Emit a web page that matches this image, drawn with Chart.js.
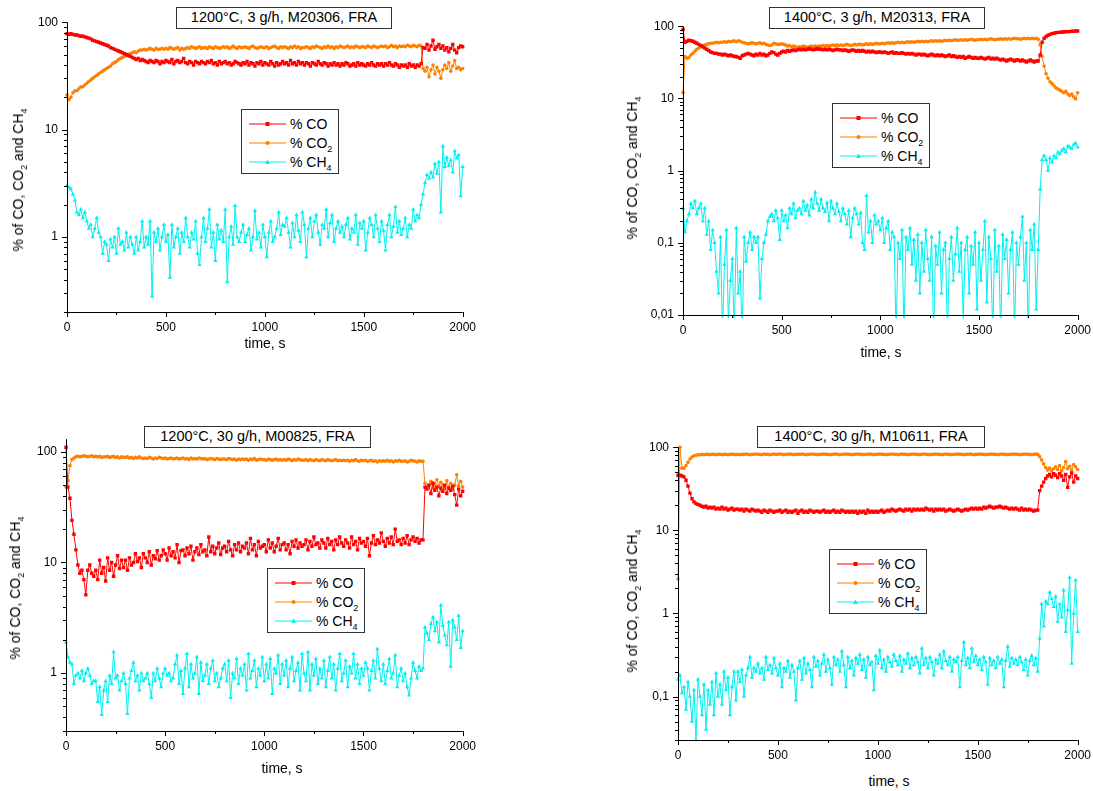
<!DOCTYPE html>
<html>
<head>
<meta charset="utf-8">
<title>Gas composition vs time</title>
<script src="https://cdn.jsdelivr.net/npm/chart.js@4.4.1/dist/chart.umd.min.js"></script>
<style>
  html, body { margin: 0; padding: 0; background: #fff; overflow: hidden; }
  body { width: 1093px; height: 791px; position: relative; font-family: "Liberation Sans", Arial, sans-serif; color: #000; }
  canvas { position: absolute; }
  .title { position: absolute; box-sizing: border-box; border: 1.5px solid #333; background: #fff; font-size: 14.5px; line-height: 19px; text-align: center; z-index: 2; }
  .legend { position: absolute; box-sizing: border-box; border: 1.5px solid #333; background: #fff; font-size: 14px; padding: 4px 0 0 7px; z-index: 2; }
  .legend .row { height: 19px; display: flex; align-items: center; white-space: nowrap; }
  .legend svg { margin-right: 4px; }
  .ytitle { position: absolute; font-size: 14px; white-space: nowrap; transform: translate(-50%, -50%) rotate(-90deg); }
  .xtitle { position: absolute; font-size: 14px; white-space: nowrap; transform: translate(-50%, -50%); }
  .sub { font-size: 9px; position: relative; top: 4px; }
</style>
</head>
<body>
<script>
// sampling: one reading every 10 s from 0 to 2000 s
const time = Array.from({ length: 201 }, (_, i) => i * 10);

// ---- 1200°C, 3 g/h, M20306 ----
const coA = [
  78,77,78,77,76,76,75,74,74,73,
  72,71,70,68,67,66,65,64,63,62,
  61,60,58,57,56,55,54,53,52,51,
  50,49,48,47,46,45,46,44,45,44,
  43,42,44,43,42,44,43,41,43,42,
  44,43,42,45,41,43,44,42,43,46,
  42,41,43,42,40,43,42,41,43,42,
  41,43,42,44,41,42,40,43,41,42,
  43,41,42,40,41,43,42,41,40,42,
  41,43,40,42,41,39,42,41,43,40,
  42,41,40,43,41,39,42,40,41,43,
  41,42,40,44,41,42,40,43,41,42,
  40,42,41,39,42,41,40,43,41,40,
  42,41,39,41,40,42,40,41,39,41,
  40,42,41,39,40,41,39,42,40,41,
  40,39,41,40,42,40,39,41,40,41,
  39,41,40,42,40,39,41,40,38,40,
  39,40,38,41,39,40,38,40,39,41,
  58,57,62,55,60,68,56,59,62,57,
  60,55,58,53,57,62,55,52,58,60,
  59
];
const co2A = [
  21,19,20,22,23,23,24,25,25,26,
  27,28,29,30,31,32,33,34,35,36,
  37,38,39,41,42,43,45,46,47,48,
  49,50,51,52,53,52,54,55,55,56,
  55,56,57,56,55,57,56,56,57,56,
  57,56,58,57,56,57,58,55,57,56,
  57,58,57,59,58,57,58,59,57,58,
  58,57,59,58,57,59,58,57,58,59,
  58,59,57,58,60,58,57,59,58,58,
  59,58,57,59,60,58,57,58,59,58,
  58,59,57,58,59,60,58,57,59,58,
  59,58,57,59,58,60,58,59,57,58,
  58,59,58,57,59,58,60,59,58,57,
  59,58,60,58,59,57,59,58,60,59,
  58,59,60,58,59,58,60,59,58,59,
  59,58,60,59,58,60,59,58,59,60,
  59,60,58,59,61,59,60,58,60,59,
  60,59,61,60,59,61,60,59,61,60,
  37,35,38,31,36,40,33,38,35,30,
  36,40,37,42,35,39,44,37,38,36,
  37
];
const ch4A = [
  3.0,2.9,2.8,2.5,2.2,1.7,1.6,1.8,1.5,1.7,
  1.4,1.2,1.3,1.0,1.2,1.5,1.1,1.0,0.7,0.9,
  0.85,0.6,0.95,0.8,1.0,0.7,1.2,0.85,0.9,0.75,
  1.1,0.8,1.0,0.85,0.7,1.0,0.75,0.9,1.4,0.8,
  1.0,0.85,1.4,0.28,1.1,0.9,1.2,0.75,1.0,1.3,
  0.9,1.05,0.42,1.3,0.8,1.0,1.2,0.7,1.1,0.9,
  1.5,1.0,0.8,1.1,0.95,1.4,0.7,0.55,1.0,1.5,
  0.9,1.2,1.8,0.8,1.1,0.6,1.3,0.95,1.15,0.9,
  1.8,0.38,1.0,1.25,0.85,1.95,1.0,0.9,1.1,1.3,
  0.9,1.05,1.2,0.75,1.0,1.75,0.95,1.1,0.8,1.3,
  1.0,0.65,1.1,1.4,0.9,1.0,1.2,1.7,1.05,1.3,
  1.25,1.5,1.1,0.8,1.35,1.0,1.6,1.15,0.9,1.7,
  1.3,0.65,1.2,1.5,1.0,1.4,1.6,1.1,0.85,1.3,
  1.2,1.8,1.0,1.35,1.6,0.9,1.2,1.4,1.1,1.25,
  1.0,1.3,1.5,0.95,1.2,1.1,1.6,0.85,1.35,1.2,
  1.4,0.75,1.1,1.5,1.3,1.0,1.6,1.2,0.9,1.4,
  1.15,0.75,1.3,1.6,1.0,1.25,1.9,1.1,1.4,1.05,
  1.2,1.5,1.0,1.3,1.2,1.8,1.4,1.6,1.5,2.0,
  2.5,3.2,3.8,3.5,4.0,3.6,4.8,3.9,5.0,1.7,
  7.0,4.5,5.5,4.6,5.2,4.0,6.3,5.4,5.8,2.4,
  4.5
];

// ---- 1400°C, 3 g/h, M20313 ----
const coB = [
  90,60,62,64,63,62,60,58,56,54,
  52,50,48,46,44,43,42,42,41,41,
  40,41,40,39,40,39,38,38,37,36,
  39,40,41,42,41,40,39,41,40,42,
  40,41,39,40,42,44,43,41,40,42,
  44,45,44,46,45,46,47,46,47,48,
  47,48,47,48,49,48,47,48,49,48,
  48,47,48,47,48,47,46,47,48,47,
  47,46,47,46,45,46,47,46,45,46,
  45,46,45,44,45,44,45,44,43,44,
  44,43,44,43,42,43,44,42,43,42,
  42,43,42,41,42,41,42,41,40,41,
  41,40,41,40,39,40,41,40,39,40,
  39,40,39,38,39,40,38,39,38,37,
  38,37,38,36,37,38,37,36,37,36,
  36,37,36,35,36,37,35,36,35,36,
  35,34,35,34,33,34,35,34,33,34,
  34,33,34,33,32,33,34,33,32,33,
  33,40,60,68,72,75,77,79,80,81,
  82,82,83,83,84,84,84,85,85,86,
  86
];
const co2B = [
  12,38,36,37,40,42,45,48,50,52,
  54,55,56,57,58,58,59,60,59,60,
  60,61,60,62,61,62,63,61,63,62,
  60,59,58,57,58,59,58,57,58,59,
  57,58,56,55,54,55,58,57,56,56,
  57,56,55,53,54,52,53,52,51,52,
  52,53,52,51,52,53,52,53,52,53,
  53,54,53,54,53,54,55,54,55,54,
  55,54,55,56,55,54,55,56,55,56,
  56,55,56,57,56,57,56,57,58,57,
  57,58,57,58,59,58,59,58,59,60,
  59,60,59,60,61,60,61,60,61,62,
  61,62,61,62,61,62,63,62,63,62,
  63,62,63,64,63,64,63,64,65,64,
  64,65,64,65,64,65,66,65,64,65,
  65,66,65,66,65,66,67,66,65,66,
  66,67,66,67,66,67,66,67,68,67,
  67,66,67,68,67,68,67,68,67,68,
  66,55,38,28,22,19,17,16,15,14,
  13.5,13,12.5,12,12.5,11.5,11,11.5,10.5,9.8,
  12
];
const ch4B = [
  0.3,0.14,0.2,0.25,0.35,0.3,0.38,0.25,0.3,0.35,
  0.2,0.3,0.13,0.2,0.08,0.15,0.1,0.04,0.02,0.12,
  0.005,0.05,0.15,0.008,0.03,0.06,0.005,0.16,0.02,0.04,
  0.005,0.12,0.055,0.1,0.14,0.08,0.12,0.1,0.12,0.017,
  0.06,0.1,0.13,0.2,0.23,0.25,0.2,0.28,0.22,0.11,
  0.28,0.2,0.24,0.16,0.3,0.25,0.35,0.22,0.28,0.3,
  0.25,0.38,0.28,0.33,0.24,0.4,0.3,0.5,0.35,0.28,
  0.4,0.3,0.27,0.36,0.2,0.38,0.3,0.25,0.35,0.27,
  0.2,0.3,0.25,0.18,0.28,0.12,0.22,0.3,0.25,0.18,
  0.26,0.1,0.08,0.45,0.14,0.2,0.1,0.24,0.18,0.2,
  0.15,0.22,0.1,0.16,0.2,0.08,0.14,0.12,0.005,0.1,
  0.06,0.15,0.005,0.12,0.08,0.16,0.05,0.11,0.03,0.13,
  0.02,0.1,0.04,0.15,0.06,0.03,0.12,0.005,0.09,0.05,
  0.14,0.02,0.08,0.1,0.005,0.06,0.12,0.03,0.07,0.16,
  0.04,0.1,0.008,0.08,0.12,0.02,0.09,0.05,0.14,0.012,
  0.1,0.03,0.08,0.2,0.015,0.12,0.06,0.005,0.15,0.04,
  0.09,0.005,0.13,0.06,0.11,0.02,0.08,0.14,0.005,0.1,
  0.05,0.12,0.23,0.03,0.1,0.005,0.15,0.08,0.18,0.012,
  0.08,0.55,1.4,1.6,1.4,1.0,1.5,1.3,1.6,1.5,
  1.8,1.7,1.9,2.0,1.8,2.2,2.1,2.0,2.3,2.4,
  2.1
];

// ---- 1200°C, 30 g/h, M00825 ----
const coC = [
  110,48,38,24,18,13,9.5,8.0,8.5,7.0,
  5.1,8.5,9.5,8.0,7.5,8.5,7.0,10.5,8.0,9.0,
  6.8,11,8.5,10,7.5,9.5,11.5,8.8,10.5,9.0,
  10.5,8.5,11,9.5,10,12,10.2,11,9.0,12,
  11,10,12.5,9.5,11.5,10.8,12.8,10.5,11.5,13,
  12,10.5,13.5,11.5,12.5,11,14.5,10,12.8,13,
  11.5,13.5,12,14,10.5,12.5,13.5,11.8,14.5,12.5,
  13,11.5,17,12.5,14,12,13.5,15,11.8,13.5,
  14,12.5,15.5,13,11.5,14.5,13,15,12.5,14,
  13.5,15,12,16.5,13,14.5,11.5,15.5,13.5,14,
  14.5,12.5,16,13.5,15,12.5,14,16.5,13,14.5,
  15,13,14.5,12,15.5,14,16,13.5,15,14,
  14.5,16,13,15.5,14,17,14.5,15,13.5,16,
  15,13.5,16.5,14.5,15.5,13,16,14.5,17,15,
  14,16,15,13.5,17,14.5,15.5,13,16.5,15,
  15.5,14,16.5,11.5,15,17.5,14.5,16,15,18.5,
  15.5,14,16.5,15,17,14.5,20,15.5,16,14.5,
  16.5,15,17.5,14.5,16,17,15.5,16.5,15,16,
  16,48,46,50,42,52,45,48,40,47,
  44,50,42,47,45,49,41,33,46,40,
  44
];
const co2C = [
  48,55,75,85,88,90,91,90,91,92,
  91,90,91,92,90,91,90,91,89,90,
  90,91,89,90,91,89,90,88,90,89,
  89,90,88,89,87,89,88,90,88,87,
  88,87,89,88,86,88,87,89,88,87,
  88,86,87,88,86,87,88,86,87,88,
  86,87,85,88,86,87,86,88,87,86,
  87,85,86,87,86,85,87,86,85,86,
  86,85,87,86,85,86,84,86,85,86,
  85,86,84,86,85,87,84,85,86,85,
  85,84,86,85,84,85,86,84,85,84,
  85,84,86,85,83,85,84,86,85,84,
  84,85,83,85,84,83,85,84,83,85,
  84,83,85,84,83,84,85,83,84,83,
  84,83,84,82,84,83,85,83,82,84,
  83,84,82,83,84,82,83,81,83,82,
  83,82,84,82,83,81,83,82,84,82,
  82,83,81,82,84,83,82,81,83,82,
  82,52,48,50,54,47,51,56,49,53,
  50,47,55,48,52,46,50,62,49,54,
  48
];
const ch4C = [
  1.9,1.4,1.25,1.2,0.8,0.95,1.0,0.9,1.05,0.85,
  1.0,1.1,0.95,0.8,0.85,0.85,0.55,0.75,0.42,0.7,
  0.85,0.55,0.95,0.8,1.55,0.9,0.95,0.7,0.85,1.0,
  0.8,0.43,0.9,1.05,1.25,0.85,0.95,0.7,1.0,0.85,
  0.9,1.0,0.8,0.6,1.0,0.85,1.1,0.9,0.75,1.0,
  1.1,0.95,1.0,0.85,0.9,1.2,1.45,0.8,1.05,0.65,
  1.1,1.5,0.75,1.2,0.9,1.0,1.4,0.65,1.25,0.85,
  0.95,1.2,0.8,1.1,1.3,0.85,1.0,0.75,0.9,1.1,
  1.2,0.85,1.3,0.6,1.0,0.9,1.35,0.8,1.1,0.95,
  1.2,0.7,1.5,0.9,1.05,1.3,0.75,1.1,0.95,1.4,
  0.85,1.2,0.9,1.35,0.65,1.1,1.0,1.45,0.8,1.2,
  0.95,1.3,0.75,1.1,1.4,0.85,1.05,1.25,0.7,1.5,
  1.0,0.85,1.55,0.7,1.2,0.95,1.35,0.8,1.1,0.9,
  1.3,0.75,1.05,1.4,0.9,1.2,0.7,1.1,1.5,0.85,
  1.0,1.3,0.75,1.15,1.0,1.5,0.9,1.2,0.8,1.1,
  0.95,1.25,1.1,0.7,1.05,1.3,0.9,1.65,1.1,0.85,
  1.2,0.8,1.05,1.35,0.9,1.0,1.45,0.75,0.95,1.1,
  0.85,1.0,0.75,0.63,0.9,1.25,1.05,0.9,1.15,1.05,
  1.1,2.6,2.3,2.0,2.8,3.2,2.4,2.9,1.9,4.1,
  2.7,2.2,1.8,2.9,1.15,3.0,2.6,2.0,3.3,1.7,
  2.4
];

// ---- 1400°C, 30 g/h, M10611 ----
const coD = [
  46,46,45,44,40,34,28,24,22,21,
  20.5,20,19.5,19,19.5,18.5,19,18.5,19,18,
  18.5,18,19,18,18.5,17.5,18,18.5,17.5,18,
  18,17.5,18,17,18,17.5,17,18,17.5,17,
  17.5,17,16.5,17.5,17,16.5,17.5,17,16.5,17,
  17,17.5,16.5,17,17.5,16.5,17,16.5,17,17.5,
  16,17,17.5,16.5,17,16.5,17.5,17,16.5,17,
  17,16.5,17,17.5,16.5,17,16.5,17,17.5,16.5,
  17,16.5,17.5,17,16.5,17,16.5,17,16.5,17,
  16,17,16.5,17,16,17.5,16.5,17,16.5,17,
  16.5,17,17.5,16.5,17,17.5,17,18,17.5,17,
  17.5,18,17.5,17,18,17.5,18,17,18,17.5,
  18,17.5,18,17.5,18.5,18,17.5,18,17,18,
  17.5,18,17.5,18,17,17.5,18,17.5,17,17.5,
  18,17.5,17,17.5,18,17.5,18,18.5,18,18.5,
  18,18.5,18,19,18.5,19,19.5,19,18.5,19,
  19,19.5,19,18.5,19,18.5,18,18.5,18,18.5,
  18,17.5,18.5,17.5,18,17.5,18,17.5,17,17.5,
  17.5,30,34,38,42,45,47,44,48,46,
  43,48,45,40,47,33,44,49,38,45,
  42
];
const co2D = [
  2.6,100,56,56,60,66,72,76,79,80,
  81,81,82,81,82,82,81,82,82,81,
  82,82,81,82,82,81,82,82,82,81,
  82,81,82,82,83,82,81,82,82,83,
  82,82,81,83,82,82,81,82,83,82,
  82,83,82,81,82,82,83,82,81,82,
  82,82,83,82,81,82,82,83,82,82,
  81,82,82,83,82,82,81,82,82,83,
  82,81,82,82,83,82,82,81,82,82,
  83,82,82,81,82,82,83,82,81,82,
  82,83,82,82,81,82,82,83,82,82,
  81,82,83,82,82,81,82,82,83,82,
  82,81,82,83,82,82,81,82,82,83,
  82,82,81,82,83,82,82,81,82,82,
  83,82,82,81,82,82,83,82,81,82,
  82,83,82,82,81,82,82,83,82,82,
  81,82,83,82,82,81,82,82,83,82,
  82,81,82,82,83,82,82,81,82,83,
  82,77,70,63,57,53,56,52,55,58,
  54,60,52,57,67,55,59,53,62,58,
  54
];
const ch4D = [
  0.16,0.18,0.11,0.13,0.07,0.15,0.1,0.05,0.12,0.03,
  0.16,0.1,0.06,0.14,0.04,0.12,0.08,0.15,0.06,0.19,
  0.1,0.14,0.08,0.2,0.12,0.17,0.06,0.13,0.2,0.09,
  0.2,0.15,0.21,0.1,0.18,0.22,0.3,0.17,0.22,0.2,
  0.25,0.19,0.22,0.16,0.3,0.21,0.24,0.19,0.29,0.22,
  0.18,0.25,0.13,0.22,0.2,0.27,0.17,0.24,0.2,0.09,
  0.22,0.27,0.16,0.29,0.19,0.25,0.21,0.13,0.3,0.23,
  0.27,0.18,0.25,0.32,0.2,0.28,0.22,0.14,0.3,0.24,
  0.28,0.2,0.35,0.24,0.13,0.3,0.22,0.27,0.18,0.29,
  0.25,0.32,0.21,0.28,0.17,0.3,0.24,0.26,0.12,0.31,
  0.25,0.36,0.22,0.28,0.2,0.3,0.26,0.23,0.32,0.27,
  0.24,0.31,0.2,0.28,0.25,0.33,0.22,0.29,0.24,0.3,
  0.26,0.19,0.38,0.24,0.29,0.22,0.3,0.26,0.18,0.28,
  0.25,0.32,0.22,0.35,0.27,0.24,0.3,0.2,0.28,0.26,
  0.3,0.13,0.27,0.45,0.24,0.29,0.22,0.38,0.26,0.31,
  0.24,0.28,0.21,0.3,0.26,0.14,0.29,0.24,0.27,0.22,
  0.3,0.25,0.28,0.13,0.27,0.4,0.23,0.29,0.25,0.28,
  0.24,0.3,0.26,0.21,0.28,0.18,0.27,0.31,0.24,0.29,
  0.2,0.5,1.3,0.7,1.4,1.3,1.8,1.5,1.2,1.6,
  0.8,1.3,0.9,1.9,0.6,1.1,2.7,0.25,1.0,2.5,
  0.6
];

// series look
const seriesNames = ['% CO', '% CO<span class="sub">2</span>', '% CH<span class="sub">4</span>'];
const seriesColors = ['#ff0000', '#ff8000', '#00f0f0'];
const seriesMarkers = ['rect', 'circle', 'triangle'];
const seriesRadius = [2.4, 1.8, 2.5];

// panel layout (plot area in page pixels, boxes and axis titles)
const panels = [
  { title: '1200°C, 3 g/h, M20306, FRA', data: [coA, co2A, ch4A], yMin: 0.2, yMax: 100,
    plot: { l: 67, r: 463, t: 22, b: 312 }, titleBox: [176, 7, 216, 22],
    legend: [241, 109], yTitle: [18, 180], xTitle: [265, 343] },
  { title: '1400°C, 3 g/h, M20313, FRA', data: [coB, co2B, ch4B], yMin: 0.01, yMax: 100,
    plot: { l: 683, r: 1078, t: 26, b: 315 }, titleBox: [769, 7, 216, 22],
    legend: [832, 103], yTitle: [632, 168], xTitle: [881, 352] },
  { title: '1200°C, 30 g/h, M00825, FRA', data: [coC, co2C, ch4C], yMin: 0.3, yMax: 130,
    plot: { l: 66, r: 463, t: 439, b: 731 }, titleBox: [144, 426, 227, 22],
    legend: [267, 568], yTitle: [15, 588], xTitle: [282, 768] },
  { title: '1400°C, 30 g/h, M10611, FRA', data: [coD, co2D, ch4D], yMin: 0.03, yMax: 100,
    plot: { l: 678, r: 1078, t: 447, b: 740 }, titleBox: [757, 426, 228, 22],
    legend: [829, 549], yTitle: [632, 601], xTitle: [889, 781] }
];

const AXIS_W = 60, PAD_T = 12, PAD_R = 15, AXIS_H = 30;
const FONT = '"Liberation Sans", Arial, sans-serif';

function isDecade(v) {
  const l = Math.log10(v);
  return Math.abs(l - Math.round(l)) < 1e-9;
}

// decades plus 2..9 minors inside [min, max]
function logTicks(min, max) {
  const out = [];
  for (let k = Math.floor(Math.log10(min)); k <= Math.ceil(Math.log10(max)); k++) {
    const d = Math.pow(10, k);
    for (let m = 1; m <= 9; m++) {
      const v = m * d;
      if (v >= min * 0.999 && v <= max * 1.001) out.push({ value: v, major: m === 1 });
    }
  }
  return out;
}

// axis lines and short outward tick marks, longer on labelled values
const tickMarks = {
  id: 'tickMarks',
  afterDraw(chart) {
    const { ctx, chartArea, scales } = chart;
    ctx.save();
    ctx.strokeStyle = '#000';
    ctx.lineWidth = 1;
    ctx.beginPath();
    scales.y.ticks.forEach(t => {
      const y = Math.round(scales.y.getPixelForValue(t.value)) + 0.5;
      const len = t.major ? 5 : 3;
      ctx.moveTo(chartArea.left - len, y);
      ctx.lineTo(chartArea.left, y);
    });
    scales.x.ticks.forEach(t => {
      const x = Math.round(scales.x.getPixelForValue(t.value)) + 0.5;
      const len = t.value % 500 === 0 ? 5 : 3;
      ctx.moveTo(x, chartArea.bottom);
      ctx.lineTo(x, chartArea.bottom + len);
    });
    ctx.moveTo(chartArea.left + 0.5, chartArea.top);
    ctx.lineTo(chartArea.left + 0.5, chartArea.bottom + 0.5);
    ctx.lineTo(chartArea.right, chartArea.bottom + 0.5);
    ctx.stroke();
    ctx.restore();
  }
};

function addDiv(cls, html, style) {
  const el = document.createElement('div');
  el.className = cls;
  el.innerHTML = html;
  Object.assign(el.style, style);
  document.body.appendChild(el);
  return el;
}

function legendSample(i) {
  const c = seriesColors[i];
  let mark;
  if (i === 0) mark = `<rect x="16.5" y="3" width="4" height="4" fill="${c}"/>`;
  else if (i === 1) mark = `<circle cx="18.5" cy="5" r="2" fill="${c}"/>`;
  else mark = `<polygon points="18.5,2.5 21,7 16,7" fill="${c}"/>`;
  return `<svg width="37" height="10"><line x1="0" y1="5" x2="37" y2="5" stroke="${c}" stroke-width="1.2"/>${mark}</svg>`;
}

function makeChart(cv, p) {
  const datasets = p.data.map((vals, i) => ({
    label: seriesNames[i],
    data: time.map((t, j) => ({ x: t, y: vals[j] })),
    borderColor: seriesColors[i],
    backgroundColor: seriesColors[i],
    borderWidth: 1,
    pointStyle: seriesMarkers[i],
    pointRadius: seriesRadius[i],
    pointBorderWidth: 0,
    pointBackgroundColor: seriesColors[i],
    tension: 0,
    clip: 3,
    order: i === 2 ? 3 : (i === 1 ? 2 : 1)
  }));

  return new Chart(cv, {
    type: 'line',
    data: { datasets },
    plugins: [tickMarks],
    options: {
      responsive: false,
      maintainAspectRatio: false,
      animation: false,
      events: [],
      layout: { padding: { left: 0, top: PAD_T, right: PAD_R, bottom: 0 } },
      plugins: { legend: { display: false }, tooltip: { enabled: false } },
      scales: {
        x: {
          type: 'linear', min: 0, max: 2000,
          grid: { display: false, drawTicks: false },
          border: { display: false },
          afterFit: s => { s.height = AXIS_H; },
          ticks: {
            stepSize: 250, autoSkip: false, maxRotation: 0, padding: 8,
            color: '#000', font: { family: FONT, size: 12 },
            callback: v => (v % 500 === 0 ? String(v) : '')
          }
        },
        y: {
          type: 'logarithmic', min: p.yMin, max: p.yMax,
          grid: { display: false, drawTicks: false },
          border: { display: false },
          afterFit: s => { s.width = AXIS_W; },
          afterBuildTicks: s => { s.ticks = logTicks(p.yMin, p.yMax); },
          ticks: {
            autoSkip: false, padding: 9,
            color: '#000', font: { family: FONT, size: 12 },
            callback: (v) => (isDecade(v) ? String(v).replace('.', ',') : '')
          }
        }
      }
    }
  });
}

panels.forEach(p => {
  const pw = p.plot.r - p.plot.l, ph = p.plot.b - p.plot.t;
  let w = pw + AXIS_W + PAD_R;
  let h = ph + PAD_T + AXIS_H;
  const cv = document.createElement('canvas');
  cv.width = w; cv.height = h;
  cv.style.width = w + 'px'; cv.style.height = h + 'px';
  document.body.appendChild(cv);

  // first pass measures the plot area, second pass sizes the canvas so it lands on the layout box
  let chart = makeChart(cv, p);
  let ca = chart.chartArea;
  w += pw - (ca.right - ca.left);
  h += ph - (ca.bottom - ca.top);
  chart.destroy();
  cv.width = w; cv.height = h;
  cv.style.width = w + 'px'; cv.style.height = h + 'px';
  chart = makeChart(cv, p);
  ca = chart.chartArea;
  cv.style.left = (p.plot.l - ca.left) + 'px';
  cv.style.top = (p.plot.t - ca.top) + 'px';

  const [tx, ty, tw, th] = p.titleBox;
  addDiv('title', p.title, { left: tx + 'px', top: ty + 'px', width: tw + 'px', height: th + 'px' });

  const rows = seriesNames.map((n, i) => `<div class="row">${legendSample(i)}<span>${n}</span></div>`).join('');
  addDiv('legend', rows, { left: p.legend[0] + 'px', top: p.legend[1] + 'px', width: '98px', height: '65px' });

  addDiv('ytitle', '% of CO, CO<span class="sub">2</span> and CH<span class="sub">4</span>',
    { left: p.yTitle[0] + 'px', top: p.yTitle[1] + 'px' });
  addDiv('xtitle', 'time, s', { left: p.xTitle[0] + 'px', top: p.xTitle[1] + 'px' });
});
</script>
</body>
</html>
